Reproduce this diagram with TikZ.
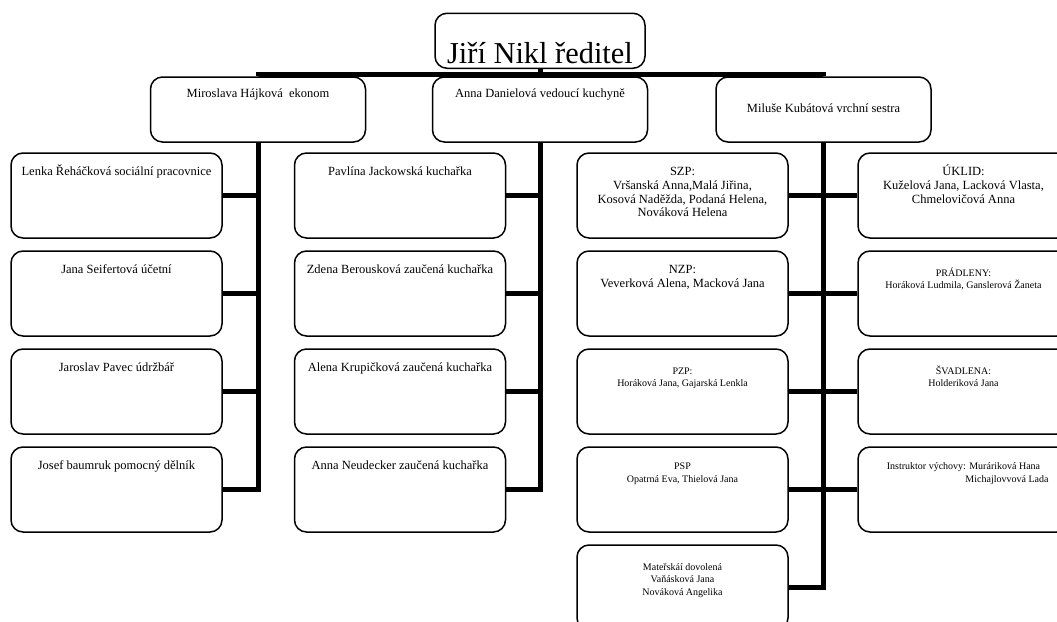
\documentclass[tikz,border=0pt]{standalone}
\usepackage{fontspec}
\setmainfont{Liberation Serif}
\usepackage{tikz}

\begin{document}
\begin{tikzpicture}[x=1pt, y=-1pt,
	box/.style={draw, line width=1.5pt, rounded corners=12pt, fill=white, inner sep=0pt},
	chief/.style={box, font=\fontsize{30.4}{34}\selectfont,
		execute at begin node={\begin{minipage}[c][55pt][t]{210pt}\centering\vspace*{20pt}\rule{0pt}{1em}},
		execute at end node={\end{minipage}}},
	head/.style={box, font=\fontsize{12.5}{13.8}\selectfont,
		execute at begin node={\begin{minipage}[c][65pt][t]{215pt}\centering\vspace*{#1}\rule{0pt}{1em}},
		execute at end node={\end{minipage}}},
	kid/.style={box, font=\fontsize{12.5}{13.8}\selectfont,
		execute at begin node={\begin{minipage}[c][85pt][t]{211pt}\centering\vspace*{#1}\rule{0pt}{1em}},
		execute at end node={\end{minipage}}},
	small/.style={kid=#1, font=\fontsize{10}{12.5}\selectfont},
	wire/.style={line width=5pt}]
			\useasboundingbox (0, 0) rectangle (1057, 621);
			\clip (0, 0) rectangle (1057, 621);

			\node[chief] (root) at (540, 40.75) {Jiří Nikl ředitel};
			\node[head=7.7pt] (mir) at (258, 109.5) {Miroslava Hájková~ ekonom};
			\node[head=7.7pt] (anna) at (540, 109.5) {Anna Danielová vedoucí kuchyně};
			\node[head=23pt] (mil) at (823.5, 109.5) {Miluše Kubátová vrchní sestra};

			\node[kid=10pt] (lenka) at (116.5, 195.5) {Lenka Řeháčková sociální pracovnice};
			\node[kid=10pt] (jana) at (116.5, 293.5) {Jana Seifertová účetní};
			\node[kid=10pt] (jaroslav) at (116.5, 391.5) {Jaroslav Pavec údržbář};
			\node[kid=10pt] (josef) at (116.5, 489.5) {Josef baumruk pomocný dělník};

			\node[kid=10pt] (pavlina) at (400, 195.5) {Pavlína Jackowská kuchařka};
			\node[kid=10pt] (zdena) at (400, 293.5) {Zdena Berousková zaučená kuchařka};
			\node[kid=10pt] (alena) at (400, 391.5) {Alena Krupičková zaučená kuchařka};
			\node[kid=10pt] (neudecker) at (400, 489.5) {Anna Neudecker zaučená kuchařka};

			\node[kid=10pt] (szp) at (682.5, 195.5) {SZP:\\ Vršanská Anna,Malá Jiřina,\\ Kosová Naděžda, Podaná Helena,\\ Nováková Helena};
			\node[kid=10pt] (nzp) at (682.5, 293.5) {NZP:\\ Veverková Alena, Macková Jana};
			\node[small=15pt] (pzp) at (682.5, 391.5) {PZP:\\ Horáková Jana, Gajarská Lenkla};
			\node[small=12.6pt] (psp) at (682.5, 489.5) {PSP\\ Opatrná Eva, Thielová Jana};
			\node[small=15pt] (materska) at (682.5, 587.5) {Mateřskáí dovolená\\ Vaňásková Jana\\ Nováková Angelika};

			\node[kid=10pt] (uklid) at (963.5, 195.5) {ÚKLID:\\ Kuželová Jana, Lacková Vlasta,\\ Chmelovičová Anna};
			\node[small=15pt] (pradleny) at (963.5, 293.5) {PRÁDLENY:\\ Horáková Ludmila, Ganslerová Žaneta};
			\node[small=15pt] (svadlena) at (963.5, 391.5) {ŠVADLENA:\\ Holderiková Jana};
			\node[small=12.6pt] (instr) at (963.5, 489.5) {Instruktor výchovy: Muráriková Hana\\ \hspace*{87pt}Michajlovvová Lada};

			\coordinate (bus) at (540, 74);
			\draw [wire] (root.south) to (anna.north);
			\draw [wire] (mir.north) |- (bus) -| (mil.north);

			\draw [wire] (mir.south) |- (josef.east);
			\foreach \k in {lenka, jana, jaroslav}
				\draw [wire] (\k.east) -- (\k.east -| mir.south);

			\draw [wire] (anna.south) |- (neudecker.east);
			\foreach \k in {pavlina, zdena, alena}
				\draw [wire] (\k.east) -- (\k.east -| anna.south);

			\draw [wire] (mil.south) |- (materska.east);
			\draw [wire] (szp.east) to (uklid.west);
			\draw [wire] (nzp.east) to (pradleny.west);
			\draw [wire] (pzp.east) to (svadlena.west);
			\draw [wire] (psp.east) to (instr.west);
		\end{tikzpicture}
\end{document}
